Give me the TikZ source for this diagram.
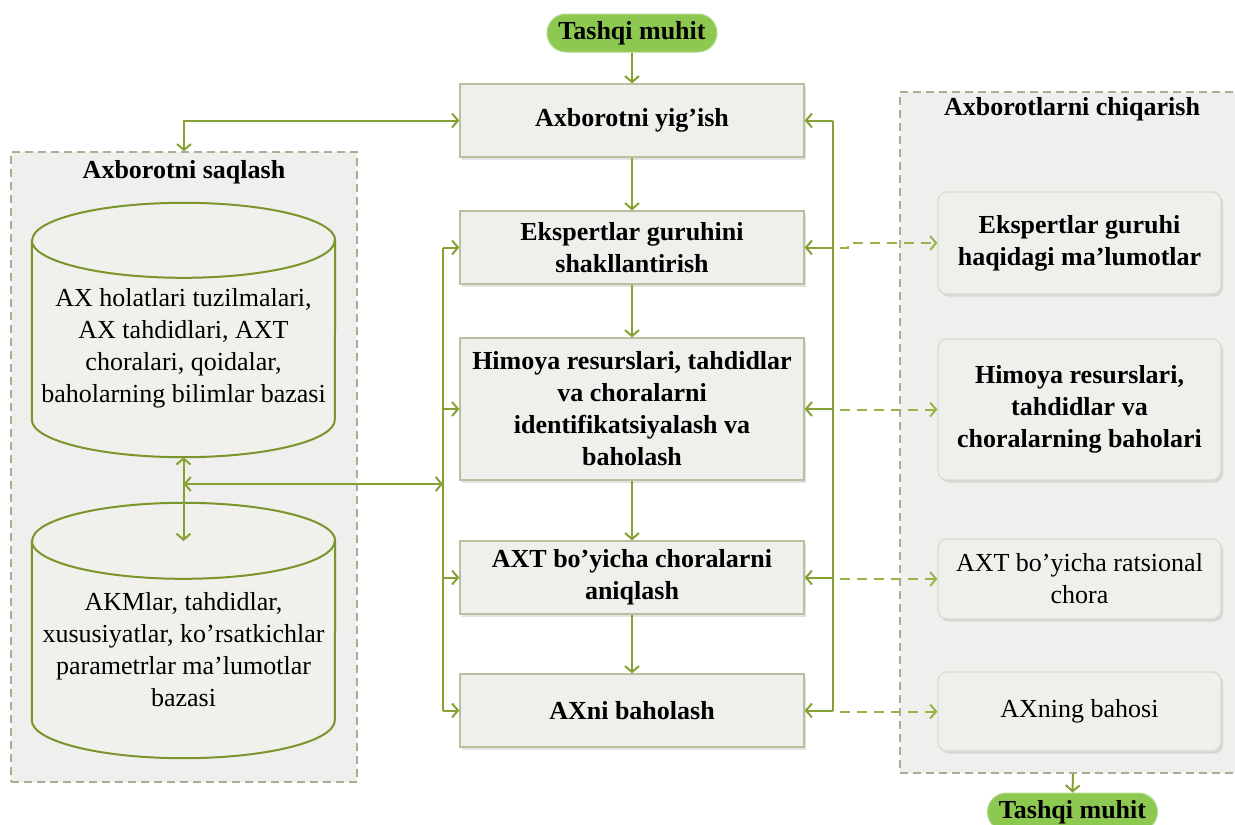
\documentclass[tikz,border=0pt]{standalone}
\usepackage{fontspec}
\setmainfont{Liberation Serif}
\usetikzlibrary{arrows.meta,shadows,calc}

\definecolor{lnk}{HTML}{84A132}
\definecolor{dlnk}{HTML}{97B447}
\definecolor{boxfill}{HTML}{EFEFEC}
\definecolor{boxline}{HTML}{B9C0A0}
\definecolor{outline}{HTML}{D8DBCD}
\definecolor{pillfill}{HTML}{8DC851}
\definecolor{pillline}{HTML}{B2DA8A}
\definecolor{cyline}{HTML}{7A952C}
\definecolor{cyfill}{HTML}{F0F0EC}
\definecolor{contline}{HTML}{A8AF92}
\definecolor{contfill}{HTML}{EFEFEE}

\tikzset{
  bigtext/.style={font=\fontsize{26}{32}\selectfont},
  boldtext/.style={font=\bfseries\fontsize{26}{32}\selectfont},
  shade/.style={drop shadow={shadow xshift=2pt, shadow yshift=-2.5pt, opacity=0.22}},
  procbox/.style={boldtext, shade, draw=boxline, line width=1.3pt, fill=boxfill,
    minimum width=344pt, minimum height=73pt, align=center, inner sep=2pt},
  outbox/.style={bigtext, shade, draw=outline, line width=1.2pt, fill=boxfill,
    rounded corners=9pt, minimum width=283pt, align=center, inner sep=2pt},
  pill/.style={boldtext, draw=pillline, line width=1pt, fill=pillfill,
    rounded corners=19pt, minimum width=170pt, minimum height=38pt, inner sep=0pt},
  container/.style={draw=contline, dash pattern=on 8pt off 5pt, line width=1.3pt,
    fill=contfill, inner sep=0pt},
  dbarea/.style={minimum width=303pt, inner sep=0pt},
  cylpath/.style={draw=cyline, line width=2pt, fill=cyfill},
  link/.style={draw=lnk, line width=2pt},
  dlink/.style={draw=dlnk, line width=2pt, dash pattern=on 10pt off 7pt},
  tip/.style={-{Straight Barb[length=6pt,width=14pt]}},
  tips/.style={{Straight Barb[length=6pt,width=14pt]}-{Straight Barb[length=6pt,width=14pt]}},
}

\begin{document}
\begin{tikzpicture}[x=1pt,y=-1pt]
  \useasboundingbox (0,0) rectangle (1235,825);

  % storage and output groups
  \node[container, minimum width=346pt, minimum height=630pt] (saq) at (184,467) {};
  \node[container, minimum width=346pt, minimum height=681pt] (chiq) at (1073,432.5) {};
  \node[boldtext] (saqT) at (184,172) {Axborotni saqlash};
  \node[boldtext] (chiqT) at (1072,109) {Axborotlarni chiqarish};

  % databases
  \node[dbarea, minimum height=254pt] (db1) at (183.5,330) {};
  \node[dbarea, minimum height=255pt] (db2) at (183.5,630.5) {};
  \foreach \d/\r in {db1/37.5, db2/38} {
    \path[cylpath] ($(\d.north west)+(0,\r)$) -- ($(\d.south west)+(0,-\r)$)
      arc[start angle=180, end angle=360, x radius=151.5pt, y radius=\r pt]
      -- ($(\d.north east)+(0,\r)$)
      arc[start angle=0, end angle=180, x radius=151.5pt, y radius=\r pt] -- cycle;
    \draw[draw=cyline, line width=2pt] ($(\d.north west)+(0,\r)$)
      arc[start angle=180, end angle=360, x radius=151.5pt, y radius=\r pt];
  }
  \node[bigtext, align=center] (db1T) at (183.5,348.5)
    {AX holatlari tuzilmalari,\\AX tahdidlari, AXT\\choralari, qoidalar,\\baholarning bilimlar bazasi};
  \node[bigtext, align=center] (db2T) at (183.5,650)
    {AKMlar, tahdidlar,\\xususiyatlar, ko’rsatkichlar\\parametrlar ma’lumotlar\\bazasi};

  % process steps
  \node[pill] (pillT) at (632,33) {Tashqi muhit};
  \node[procbox] (B1) at (632,120.5) {Axborotni yig’ish};
  \node[procbox] (B2) at (632,247.5) {Ekspertlar guruhini\\shakllantirish};
  \node[procbox, minimum height=142pt] (B3) at (632,409)
    {Himoya resurslari, tahdidlar\\va choralarni\\identifikatsiyalash va\\baholash};
  \node[procbox] (B4) at (632,577.5) {AXT bo’yicha choralarni\\aniqlash};
  \node[procbox] (B5) at (632,710.5) {AXni baholash};

  % outputs
  \node[outbox, font=\bfseries\fontsize{26}{32}\selectfont, minimum height=102pt] (O1) at (1079.5,243)
    {Ekspertlar guruhi\\haqidagi ma’lumotlar};
  \node[outbox, font=\bfseries\fontsize{26}{32}\selectfont, minimum height=141pt] (O2) at (1079.5,409.5)
    {Himoya resurslari,\\tahdidlar va\\choralarning baholari};
  \node[outbox, minimum height=80pt] (O3) at (1079.5,579) {AXT bo’yicha ratsional\\chora};
  \node[outbox, minimum height=79pt] (O4) at (1079.5,711.5) {AXning bahosi};
  \node[pill] (pillB) at (1072.5,812) {Tashqi muhit};

  % main flow
  \draw[link,tip] (pillT.south) -- (B1.north);
  \draw[link,tip] (B1.south) -- (B2.north);
  \draw[link,tip] (B2.south) -- (B3.north);
  \draw[link,tip] (B3.south) -- (B4.north);
  \draw[link,tip] (B4.south) -- (B5.north);
  \draw[link,tip] (chiq.south) -- (pillB.north);

  % buses
  \coordinate (lb) at (443,0);
  \coordinate (rb) at (833,0);
  \draw[link] (lb |- B2.west) -- (lb |- B5.west);
  \foreach \b in {B2,B3,B4,B5} \draw[link,tip] (lb |- \b.west) -- (\b.west);
  \draw[link] (rb |- B1.east) -- (rb |- B5.east);
  \foreach \b in {B1,B2,B3,B4,B5} \draw[link,tip] (rb |- \b.east) -- (\b.east);

  % storage links
  \draw[link,tips] (B1.west) -| (saq.north);
  \coordinate (lid2) at (183.5,541);
  \draw[link,tips] (db1.south) -- (lid2);
  \coordinate (jn) at (183.5,484);
  \draw[link,tips] (jn) -- (jn -| lb);

  % output links
  \draw[dlink,tip] ($(rb |- B2.east)+(7,0)$) -- ++(8,0) |- (O1.west);
  \foreach \o in {O2,O3,O4} \draw[dlink,tip] ($(rb |- \o.west)+(7,0)$) -- (\o.west);
\end{tikzpicture}
\end{document}
